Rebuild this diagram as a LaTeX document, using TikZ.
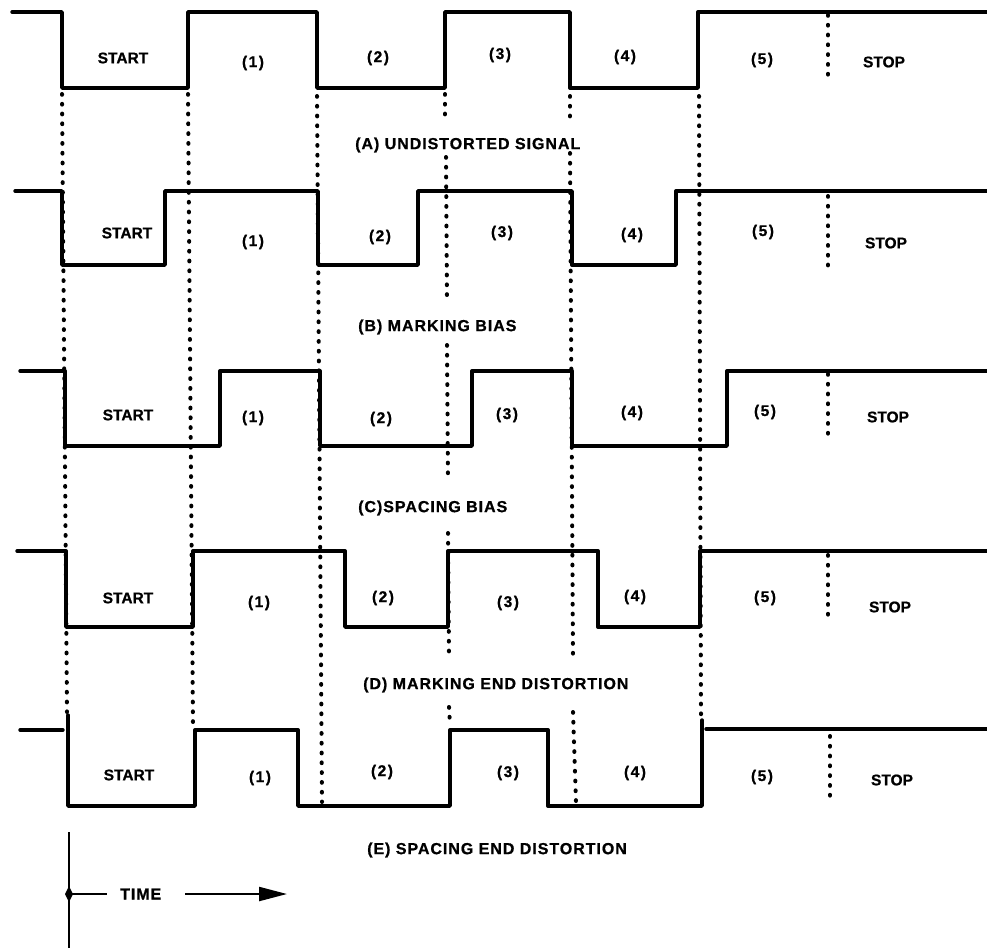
\documentclass[tikz,border=0pt]{standalone}
\usepackage{fontspec}
\setmainfont{Liberation Sans}
\usetikzlibrary{arrows.meta}
\begin{document}
\begin{tikzpicture}[x=1pt,y=-1pt,
  wave/.style={line width=3.4pt, line join=round, line cap=round},
  dots/.style={line width=4pt, line cap=round, dash pattern=on 0.8pt off 9pt},
  bitlab/.style={inner sep=0pt, font=\fontsize{15.5}{15.5}\selectfont\bfseries\addfontfeature{LetterSpace=10,FakeBold=0.8}},
  wordlab/.style={inner sep=0pt, font=\fontsize{15.5}{15.5}\selectfont\bfseries\addfontfeature{FakeBold=0.8}},
  caplab/.style={inner sep=0pt, anchor=west, font=\fontsize{16}{16}\selectfont\bfseries\addfontfeature{LetterSpace=6,FakeBold=0.8}},
  axis/.style={line width=2.2pt}]
\useasboundingbox (0,0) rectangle (987,948);
\fill[white] (0,0) rectangle (987,948);

% ---------- waveforms ----------
% (A) undistorted
\draw[wave] (12,12) -- (62,12) -- (62,88) -- (188,88) -- (188,12) -- (317,12) -- (317,88)
  -- (445,88) -- (445,12) -- (570,12) -- (570,88) -- (698,88) -- (698,12) -- (987,12);
% (B) marking bias
\draw[wave] (15,191) -- (62,191) -- (62,265) -- (165,265) -- (165,191) -- (318,191) -- (318,265)
  -- (418,265) -- (418,191) -- (572,191) -- (572,265) -- (676,265) -- (676,191) -- (987,191);
% (C) spacing bias
\draw[wave] (20,371) -- (65,371) -- (65,446) -- (220,446) -- (220,371) -- (320,371) -- (320,446)
  -- (472,446) -- (472,371) -- (572,371) -- (572,446) -- (727,446) -- (727,371) -- (987,371);
% (D) marking end distortion
\draw[wave] (17,551) -- (66,551) -- (66,627) -- (193,627) -- (193,551) -- (345,551) -- (345,627)
  -- (448,627) -- (448,551) -- (598,551) -- (598,627) -- (700,627) -- (700,551) -- (987,551);
% (E) spacing end distortion
\draw[wave] (20,730) -- (63,730);
\draw[wave] (68,715) -- (68,806) -- (195,806) -- (195,730) -- (298,730) -- (298,806)
  -- (450,806) -- (450,730) -- (548,730) -- (548,806) -- (702,806) -- (702,720);
\draw[wave] (706,729) -- (987,729);

% ---------- long dotted timing lines ----------
\draw[dots] (62,94) -- (67,712);
\draw[dots] (188,94) -- (193,726);
\draw[dots] (317,96) -- (322,802);
\draw[dots] (445,94) -- (445,120);
\draw[dots] (446,157) -- (447,302);
\draw[dots] (447,345) -- (448,482);
\draw[dots] (448,533) -- (449,658);
\draw[dots] (449,707) -- (450,726);
\draw[dots] (570,96) -- (570,122);
\draw[dots] (570,153) -- (573,658);
\draw[dots] (573,712) -- (576,802);
\draw[dots] (699,96) -- (701,716);

% ---------- short dotted stop lines ----------
\draw[dots] (828,15) -- (828,83);
\draw[dots] (828,196) -- (828,266);
\draw[dots] (828,374) -- (828,442);
\draw[dots] (828,555) -- (828,623);
\draw[dots] (830,736) -- (830,798);

% ---------- bit labels ----------
\node[wordlab] (a0) at (123,58) {START};
\node[bitlab]  (a1) at (253,63) {(1)};
\node[bitlab]  (a2) at (378,58) {(2)};
\node[bitlab]  (a3) at (500,55) {(3)};
\node[bitlab]  (a4) at (625,57) {(4)};
\node[bitlab]  (a5) at (762,60) {(5)};
\node[wordlab] (a6) at (884,62) {STOP};

\node[wordlab] (b0) at (127,233) {START};
\node[bitlab]  (b1) at (253,242) {(1)};
\node[bitlab]  (b2) at (380,237) {(2)};
\node[bitlab]  (b3) at (502,233) {(3)};
\node[bitlab]  (b4) at (632,235) {(4)};
\node[bitlab]  (b5) at (763,232) {(5)};
\node[wordlab] (b6) at (886,243) {STOP};

\node[wordlab] (c0) at (128,415) {START};
\node[bitlab]  (c1) at (253,418) {(1)};
\node[bitlab]  (c2) at (381,419) {(2)};
\node[bitlab]  (c3) at (507,415) {(3)};
\node[bitlab]  (c4) at (632,413) {(4)};
\node[bitlab]  (c5) at (765,412) {(5)};
\node[wordlab] (c6) at (888,417) {STOP};

\node[wordlab] (d0) at (128,598) {START};
\node[bitlab]  (d1) at (259,603) {(1)};
\node[bitlab]  (d2) at (383,598) {(2)};
\node[bitlab]  (d3) at (508,603) {(3)};
\node[bitlab]  (d4) at (635,597) {(4)};
\node[bitlab]  (d5) at (765,598) {(5)};
\node[wordlab] (d6) at (890,607) {STOP};

\node[wordlab] (e0) at (129,775) {START};
\node[bitlab]  (e1) at (260,778) {(1)};
\node[bitlab]  (e2) at (382,772) {(2)};
\node[bitlab]  (e3) at (508,773) {(3)};
\node[bitlab]  (e4) at (635,773) {(4)};
\node[bitlab]  (e5) at (762,777) {(5)};
\node[wordlab] (e6) at (892,780) {STOP};

% ---------- captions ----------
\node[caplab] (capA) at (355,145) {(A) UNDISTORTED SIGNAL};
\node[caplab] (capB) at (358,327) {(B) MARKING BIAS};
\node[caplab] (capC) at (358,508) {(C)SPACING BIAS};
\node[caplab] (capD) at (363,685) {(D) MARKING END DISTORTION};
\node[caplab] (capE) at (367,850) {(E) SPACING END DISTORTION};

% ---------- time axis ----------
\coordinate (axtop) at (69,832);
\coordinate (axbot) at (69,948);
\coordinate (axmid) at (69,894);
\coordinate (tick) at (107,894);
\draw[axis] (axtop) -- (axbot);
\draw[axis] (axmid) -- (tick);
\fill (69,886) -- (73,894) -- (69,902) -- (65,894) -- cycle;
\node[caplab] (time) at (120,894) {TIME};
\coordinate (arrs) at (185,894);
\coordinate (arre) at (287,894);
\draw[axis, -{Triangle[length=28pt,width=14pt]}] (arrs) -- (arre);
\end{tikzpicture}
\end{document}
